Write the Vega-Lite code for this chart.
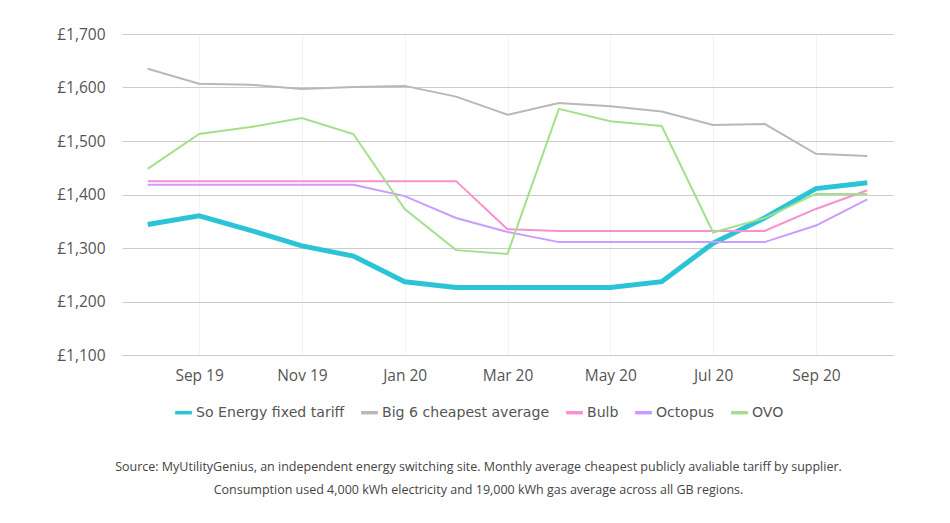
{
  "$schema": "https://vega.github.io/schema/vega-lite/v6.json",
  "width": 771,
  "height": 321,
  "autosize": "none",
  "padding": {"left": 122, "top": 34, "right": 57, "bottom": 168},
  "background": "white",
  "config": {
    "font": "Open Sans",
    "view": {"stroke": null}
  },
  "title": {
    "text": [
      "Source: MyUtilityGenius, an independent energy switching site. Monthly average cheapest publicly avaliable tariff by supplier.",
      "Consumption used 4,000 kWh electricity and 19,000 kWh gas average across all GB regions."
    ],
    "orient": "bottom",
    "anchor": "middle",
    "offset": 41,
    "dx": -29,
    "fontSize": 12.5,
    "fontWeight": "normal",
    "lineHeight": 23,
    "color": "#444444"
  },
  "data": {
    "values": [
      {"month": "Aug 19", "supplier": "So Energy fixed tariff", "price": 1344},
      {"month": "Sep 19", "supplier": "So Energy fixed tariff", "price": 1360},
      {"month": "Oct 19", "supplier": "So Energy fixed tariff", "price": 1333},
      {"month": "Nov 19", "supplier": "So Energy fixed tariff", "price": 1304},
      {"month": "Dec 19", "supplier": "So Energy fixed tariff", "price": 1285},
      {"month": "Jan 20", "supplier": "So Energy fixed tariff", "price": 1237},
      {"month": "Feb 20", "supplier": "So Energy fixed tariff", "price": 1226},
      {"month": "Mar 20", "supplier": "So Energy fixed tariff", "price": 1226},
      {"month": "Apr 20", "supplier": "So Energy fixed tariff", "price": 1226},
      {"month": "May 20", "supplier": "So Energy fixed tariff", "price": 1226},
      {"month": "Jun 20", "supplier": "So Energy fixed tariff", "price": 1237},
      {"month": "Jul 20", "supplier": "So Energy fixed tariff", "price": 1309},
      {"month": "Aug 20", "supplier": "So Energy fixed tariff", "price": 1356},
      {"month": "Sep 20", "supplier": "So Energy fixed tariff", "price": 1411},
      {"month": "Oct 20", "supplier": "So Energy fixed tariff", "price": 1422},
      {"month": "Aug 19", "supplier": "Big 6 cheapest average", "price": 1635},
      {"month": "Sep 19", "supplier": "Big 6 cheapest average", "price": 1607},
      {"month": "Oct 19", "supplier": "Big 6 cheapest average", "price": 1605},
      {"month": "Nov 19", "supplier": "Big 6 cheapest average", "price": 1597},
      {"month": "Dec 19", "supplier": "Big 6 cheapest average", "price": 1601},
      {"month": "Jan 20", "supplier": "Big 6 cheapest average", "price": 1603},
      {"month": "Feb 20", "supplier": "Big 6 cheapest average", "price": 1583},
      {"month": "Mar 20", "supplier": "Big 6 cheapest average", "price": 1549},
      {"month": "Apr 20", "supplier": "Big 6 cheapest average", "price": 1571},
      {"month": "May 20", "supplier": "Big 6 cheapest average", "price": 1565},
      {"month": "Jun 20", "supplier": "Big 6 cheapest average", "price": 1555},
      {"month": "Jul 20", "supplier": "Big 6 cheapest average", "price": 1530},
      {"month": "Aug 20", "supplier": "Big 6 cheapest average", "price": 1532},
      {"month": "Sep 20", "supplier": "Big 6 cheapest average", "price": 1476},
      {"month": "Oct 20", "supplier": "Big 6 cheapest average", "price": 1472},
      {"month": "Aug 19", "supplier": "Bulb", "price": 1425},
      {"month": "Sep 19", "supplier": "Bulb", "price": 1425},
      {"month": "Oct 19", "supplier": "Bulb", "price": 1425},
      {"month": "Nov 19", "supplier": "Bulb", "price": 1425},
      {"month": "Dec 19", "supplier": "Bulb", "price": 1425},
      {"month": "Jan 20", "supplier": "Bulb", "price": 1425},
      {"month": "Feb 20", "supplier": "Bulb", "price": 1425},
      {"month": "Mar 20", "supplier": "Bulb", "price": 1335},
      {"month": "Apr 20", "supplier": "Bulb", "price": 1332},
      {"month": "May 20", "supplier": "Bulb", "price": 1332},
      {"month": "Jun 20", "supplier": "Bulb", "price": 1332},
      {"month": "Jul 20", "supplier": "Bulb", "price": 1332},
      {"month": "Aug 20", "supplier": "Bulb", "price": 1332},
      {"month": "Sep 20", "supplier": "Bulb", "price": 1373},
      {"month": "Oct 20", "supplier": "Bulb", "price": 1408},
      {"month": "Aug 19", "supplier": "Octopus", "price": 1418},
      {"month": "Sep 19", "supplier": "Octopus", "price": 1418},
      {"month": "Oct 19", "supplier": "Octopus", "price": 1418},
      {"month": "Nov 19", "supplier": "Octopus", "price": 1418},
      {"month": "Dec 19", "supplier": "Octopus", "price": 1418},
      {"month": "Jan 20", "supplier": "Octopus", "price": 1397},
      {"month": "Feb 20", "supplier": "Octopus", "price": 1356},
      {"month": "Mar 20", "supplier": "Octopus", "price": 1330},
      {"month": "Apr 20", "supplier": "Octopus", "price": 1311},
      {"month": "May 20", "supplier": "Octopus", "price": 1311},
      {"month": "Jun 20", "supplier": "Octopus", "price": 1311},
      {"month": "Jul 20", "supplier": "Octopus", "price": 1311},
      {"month": "Aug 20", "supplier": "Octopus", "price": 1311},
      {"month": "Sep 20", "supplier": "Octopus", "price": 1342},
      {"month": "Oct 20", "supplier": "Octopus", "price": 1391},
      {"month": "Aug 19", "supplier": "OVO", "price": 1448},
      {"month": "Sep 19", "supplier": "OVO", "price": 1513},
      {"month": "Oct 19", "supplier": "OVO", "price": 1526},
      {"month": "Nov 19", "supplier": "OVO", "price": 1543},
      {"month": "Dec 19", "supplier": "OVO", "price": 1513},
      {"month": "Jan 20", "supplier": "OVO", "price": 1373},
      {"month": "Feb 20", "supplier": "OVO", "price": 1296},
      {"month": "Mar 20", "supplier": "OVO", "price": 1289},
      {"month": "Apr 20", "supplier": "OVO", "price": 1560},
      {"month": "May 20", "supplier": "OVO", "price": 1537},
      {"month": "Jun 20", "supplier": "OVO", "price": 1528},
      {"month": "Jul 20", "supplier": "OVO", "price": 1329},
      {"month": "Aug 20", "supplier": "OVO", "price": 1356},
      {"month": "Sep 20", "supplier": "OVO", "price": 1401},
      {"month": "Oct 20", "supplier": "OVO", "price": 1401}
    ]
  },
  "encoding": {
    "x": {
      "field": "month",
      "type": "ordinal",
      "sort": null,
      "title": null,
      "scale": {"type": "point", "padding": 0.5},
      "axis": {
        "values": ["Sep 19", "Nov 19", "Jan 20", "Mar 20", "May 20", "Jul 20", "Sep 20"],
        "labelAngle": 0,
        "labelFontSize": 15.5,
        "labelColor": "#555555",
        "labelPadding": 13,
        "ticks": false,
        "domainColor": "#cccccc",
        "grid": true,
        "gridColor": "#f3f3f3"
      }
    },
    "y": {
      "field": "price",
      "type": "quantitative",
      "title": null,
      "scale": {"domain": [1100, 1700], "nice": false},
      "axis": {
        "values": [1100, 1200, 1300, 1400, 1500, 1600, 1700],
        "labelExpr": "'£' + format(datum.value, ',')",
        "labelFontSize": 15.5,
        "labelColor": "#555555",
        "labelPadding": 17,
        "ticks": false,
        "domain": false,
        "gridColor": "#cccccc"
      }
    },
    "color": {
      "field": "supplier",
      "type": "nominal",
      "scale": {
        "domain": ["So Energy fixed tariff", "Big 6 cheapest average", "Bulb", "Octopus", "OVO"],
        "range": ["#2bc4d6", "#b8b8b8", "#f98fcd", "#c99cff", "#a3e08c"]
      },
      "legend": {
        "title": null,
        "orient": "none",
        "legendX": 51,
        "legendY": 368,
        "direction": "horizontal",
        "columns": 5,
        "symbolType": "stroke",
        "symbolSize": 280,
        "symbolStrokeWidth": 3.5,
        "labelFont": "DejaVu Sans",
        "labelFontSize": 14.1,
        "labelLimit": 300,
        "labelColor": "#555555",
        "labelOffset": 2,
        "columnPadding": 9
      }
    }
  },
  "layer": [
    {
      "transform": [{"filter": "datum.supplier === 'So Energy fixed tariff'"}],
      "mark": {"type": "line", "strokeWidth": 5, "strokeJoin": "miter", "strokeCap": "butt"}
    },
    {
      "transform": [{"filter": "datum.supplier !== 'So Energy fixed tariff'"}],
      "mark": {"type": "line", "strokeWidth": 2, "strokeJoin": "miter", "strokeCap": "butt"}
    }
  ]
}
